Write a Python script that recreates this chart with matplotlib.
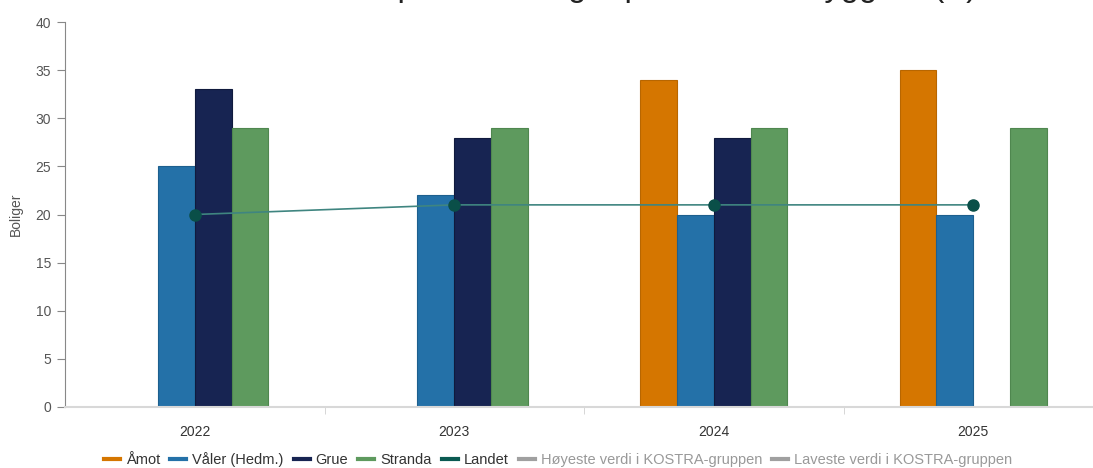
import numpy as np
import matplotlib.pyplot as plt
from matplotlib.lines import Line2D

plt.rcParams['font.family'] = ['Liberation Sans', 'DejaVu Sans']

# Data
years = ["2022", "2023", "2024", "2025"]
amot = [np.nan, np.nan, 34, 35]
valer = [25, 22, 20, 20]
grue = [33, 28, 28, np.nan]
stranda = [29, 29, 29, 29]
landet = [20, 21, 21, 21]

series = ["Åmot", "Våler (Hedm.)", "Grue", "Stranda"]
colors = ["#d57600", "#2471a8", "#172452", "#5e9a5e"]
edges = ["#b86600", "#1d5f8e", "#101a3d", "#4f874f"]

fig = plt.figure(figsize=(10.93, 4.68), dpi=100)
# axes is wider than the figure on the right (chart is cut in the reference)
ax = fig.add_axes([65 / 1093, 61 / 468, 1038 / 1093, 385 / 468])

x = np.arange(len(years))
w = 0.142
for i, (name, vals) in enumerate(zip(series, [amot, valer, grue, stranda])):
    ax.bar(x + (i - 1.5) * w, vals, width=w, color=colors[i],
           edgecolor=edges[i], linewidth=0.8, zorder=2)

ax.plot(x, landet, color="#3f8580", linewidth=1.2, marker="o",
        markersize=8, markerfacecolor="#0a4f48", markeredgecolor="#0a4f48", zorder=3)

ax.set_xlim(-0.5, 3.5)
ax.set_ylim(0, 40)
ax.set_yticks(range(0, 41, 5))
ax.set_xticks(x)
ax.set_xticklabels(years, fontsize=10, color="#333333")
ax.set_xticks(x[:-1] + 0.5, minor=True)
ax.tick_params(axis="x", which="major", length=0, pad=13)
ax.tick_params(axis="x", which="minor", length=5, color="#d0d0d0")
ax.tick_params(axis="y", length=6, color="#888888", labelsize=10, labelcolor="#555555", pad=4)
ax.set_ylabel("Boliger", fontsize=10, color="#555555", labelpad=9)

for s in ["top", "right"]:
    ax.spines[s].set_visible(False)
ax.spines["left"].set_color("#888888")
ax.spines["bottom"].set_color("#d8d8d8")
ax.spines["bottom"].set_linewidth(1.5)

# title, cut off at the top like in the reference (only descenders show)
fig.text(579 / 1093, 1.0 + 4 / 468, "Kommunalt disponerte boliger per 1000 innbyggere (B)",
         ha="center", va="baseline", fontsize=23.5, color="#222222")

handles = [Line2D([], [], color=c, linewidth=3) for c in colors]
handles.append(Line2D([], [], color="#0a5a52", linewidth=3))
handles.append(Line2D([], [], color="#a0a0a0", linewidth=3))
handles.append(Line2D([], [], color="#a0a0a0", linewidth=3))
labels = series + ["Landet", "Høyeste verdi i KOSTRA-gruppen", "Laveste verdi i KOSTRA-gruppen"]
leg = fig.legend(handles, labels, loc="center", bbox_to_anchor=(558 / 1093, 1 - 460 / 468),
                 ncol=7, frameon=False, fontsize=10.5, handlelength=1.1,
                 handletextpad=0.4, columnspacing=0.7)
for t in leg.get_texts()[:5]:
    t.set_color("#333333")
for t in leg.get_texts()[5:]:
    t.set_color("#999999")

fig.savefig("out.png", dpi=100)
